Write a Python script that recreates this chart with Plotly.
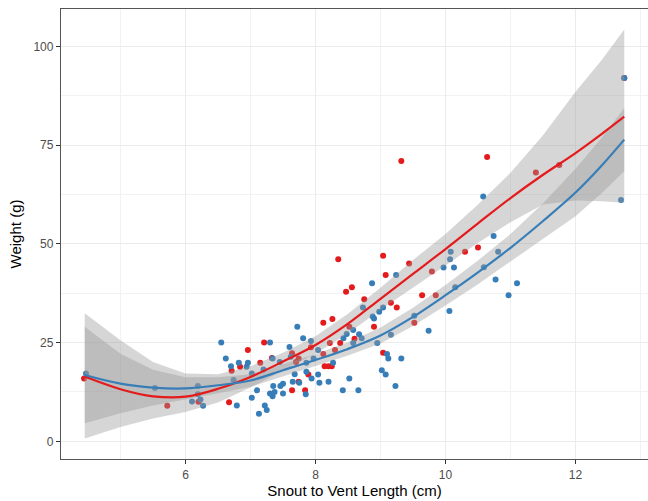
import plotly.graph_objects as go

# ---- observed points ----
red_x = [12.75, 4.44, 5.72, 6.20, 6.67, 6.71, 6.84, 6.96, 7.15, 7.21, 7.33, 7.64, 7.64, 7.70, 7.74, 7.74,
         7.84, 7.89, 7.93, 8.12, 8.26, 8.22, 8.12, 8.14, 8.20, 8.25, 8.30, 8.35, 8.47, 8.56,
         8.60, 8.38, 8.52, 8.75, 8.90, 9.04, 9.08, 9.16, 9.25, 9.04, 9.32, 9.44, 9.52, 9.64,
         9.79, 9.85, 10.30, 10.50, 10.64, 11.39, 11.75]
red_y = [92.0, 15.9, 9.0, 10.0, 9.9, 17.9, 18.9, 23.1, 19.9, 25.0, 21.1, 12.9, 22.3, 20.1, 21.0, 15.1,
         12.9, 16.9, 23.8, 30.0, 31.0, 24.9, 22.1, 19.0, 19.0, 19.0, 23.1, 46.1, 37.9, 39.0,
         26.0, 24.9, 29.0, 36.0, 29.0, 47.0, 42.1, 35.1, 33.9, 22.4, 71.0, 45.0, 30.0, 37.0,
         43.0, 37.0, 48.0, 49.1, 72.0, 68.1, 70.0]

blue_x = [4.47, 5.53, 6.10, 6.19, 6.19, 6.23, 6.27, 6.55, 6.62, 6.70, 6.74, 6.79, 6.82, 6.94, 6.96,
          7.02, 7.02, 7.10, 7.13, 7.20, 7.22, 7.25, 7.30, 7.30, 7.34, 7.37, 7.35, 7.34, 7.45,
          7.46, 7.50, 7.50, 7.60, 7.62, 7.65, 7.68, 7.72, 7.75, 7.81, 7.85, 7.86, 7.86, 7.93,
          7.94, 7.97, 8.04, 8.04, 8.06, 8.20, 8.27, 8.42, 8.43, 8.48, 8.52, 8.58, 8.58, 8.66,
          8.67, 8.71, 8.73, 8.87, 8.88, 8.90, 8.95, 8.98, 9.02, 9.04, 9.08, 9.10, 9.12, 9.16,
          9.23, 9.24, 9.32, 9.52, 9.74, 9.97, 10.06, 10.07, 10.08, 10.13, 10.15, 10.58, 10.59,
          10.74, 10.77, 10.81, 10.97, 11.10, 12.70, 12.75]
blue_y = [17.2, 13.5, 10.1, 14.0, 11.9, 10.6, 9.0, 25.0, 21.0, 19.0, 15.5, 9.1, 19.9, 18.9, 19.9,
          11.0, 17.2, 12.9, 7.0, 18.2, 9.1, 7.9, 25.0, 12.1, 11.4, 12.5, 14.0, 21.0, 20.1,
          14.0, 12.1, 14.6, 23.9, 21.4, 15.1, 17.0, 29.0, 14.8, 26.1, 11.9, 17.6, 19.9, 25.4,
          15.9, 21.0, 16.9, 23.1, 14.8, 15.1, 19.9, 12.9, 26.1, 27.2, 15.9, 24.9, 28.2, 12.9,
          27.1, 26.1, 33.9, 40.0, 31.6, 31.1, 24.9, 32.8, 18.0, 33.9, 16.9, 22.1, 21.0, 27.0,
          14.0, 42.1, 21.0, 31.8, 28.0, 44.0, 33.0, 46.1, 48.0, 44.0, 39.0, 62.0, 44.1,
          52.0, 41.0, 48.0, 37.0, 40.0, 61.1, 92.0]

# ---- smoothers ----
fit_x = [4.45, 5.0, 5.5, 6.0, 6.5, 7.0, 7.5, 8.0, 8.5, 9.0, 9.5, 10.0, 10.5, 11.0, 11.5, 12.0, 12.4, 12.75]
red_fit = [16.4, 13.2, 11.4, 11.3, 13.3, 16.3, 20.2, 24.4, 29.8, 36.1, 42.4, 48.7, 55.2, 61.6, 67.5, 73.0, 77.8, 82.2]
red_hi = [32.4, 25.6, 20.1, 17.2, 17.0, 19.0, 22.4, 26.6, 32.3, 38.9, 45.9, 52.5, 60.0, 68.0, 77.5, 88.5, 96.5, 104.3]
red_lo = [0.7, 3.6, 5.8, 7.4, 9.8, 13.6, 18.0, 22.2, 27.3, 33.3, 38.9, 44.5, 50.3, 55.5, 60.0, 61.0, 60.8, 60.4]
blue_fit = [16.8, 14.6, 13.6, 13.4, 14.2, 15.4, 18.0, 20.6, 23.4, 26.8, 31.5, 37.0, 42.8, 49.0, 55.8, 63.0, 69.8, 76.4]
blue_hi = [29.0, 22.2, 18.1, 16.2, 16.2, 17.0, 19.5, 22.1, 25.1, 28.8, 33.8, 39.6, 45.8, 52.5, 60.3, 69.0, 76.8, 84.4]
blue_lo = [4.6, 7.1, 9.1, 10.6, 12.2, 13.8, 16.5, 19.1, 21.7, 24.8, 29.2, 34.4, 39.8, 45.5, 51.3, 57.0, 62.8, 68.4]

x_ticks = [6, 8, 10, 12]
y_ticks = [0, 25, 50, 75, 100]

RED = "#E41A1C"
BLUE = "#377EB8"
RIBBON = "rgba(153,153,153,0.4)"

fig = go.Figure()
fig.add_trace(go.Scatter(x=red_x, y=red_y, mode="markers",
                         marker=dict(color=RED, size=6, line=dict(width=0)), showlegend=False))
fig.add_trace(go.Scatter(x=blue_x, y=blue_y, mode="markers",
                         marker=dict(color=BLUE, size=6, line=dict(width=0)), showlegend=False))

for lo, hi in [(red_lo, red_hi), (blue_lo, blue_hi)]:
    fig.add_trace(go.Scatter(x=fit_x + fit_x[::-1], y=hi + lo[::-1], fill="toself",
                             fillcolor=RIBBON, line=dict(width=0), mode="lines",
                             hoverinfo="skip", showlegend=False))

fig.add_trace(go.Scatter(x=fit_x, y=red_fit, mode="lines", line=dict(color=RED, width=2.2, shape="spline"),
                         showlegend=False))
fig.add_trace(go.Scatter(x=fit_x, y=blue_fit, mode="lines", line=dict(color=BLUE, width=2.2, shape="spline"),
                         showlegend=False))

axis_font = dict(family="Liberation Sans, Arial, sans-serif", size=12, color="#4d4d4d")
title_font = dict(family="Liberation Sans, Arial, sans-serif", size=15, color="#000000")

fig.update_layout(
    width=648, height=501,
    margin=dict(l=61, r=0, t=9, b=42),
    paper_bgcolor="white", plot_bgcolor="white",
    xaxis=dict(range=[4.085, 13.115], tickvals=x_ticks, ticktext=[str(v) for v in x_ticks],
               automargin=False,
               showgrid=True, gridcolor="#ebebeb", gridwidth=1.2,
               minor=dict(tickvals=[5, 7, 9, 11, 13], showgrid=True, gridcolor="#f2f2f2", gridwidth=0.8, ticks=""),
               zeroline=False, showline=True, linecolor="#555555", linewidth=1.3, mirror=True,
               ticks="outside", ticklen=4, tickcolor="#333333", tickfont=axis_font,
               title=dict(text="Snout to Vent Length (cm)", font=title_font, standoff=4)),
    yaxis=dict(range=[-4.48, 109.48], tickvals=y_ticks, ticktext=[str(v) for v in y_ticks],
               automargin=False,
               showgrid=True, gridcolor="#ebebeb", gridwidth=1.2,
               minor=dict(tickvals=[12.5, 37.5, 62.5, 87.5], showgrid=True, gridcolor="#f2f2f2", gridwidth=0.8, ticks=""),
               zeroline=False, showline=True, linecolor="#555555", linewidth=1.3,
               ticks="outside", ticklen=4, tickcolor="#333333", tickfont=axis_font,
               title=dict(text="Weight (g)", font=title_font, standoff=8)),
)

fig.write_html("out.html", config={"displayModeBar": False},
               post_script="document.body.style.margin='0';document.body.style.padding='0';"
                           "document.body.style.overflow='hidden';")
